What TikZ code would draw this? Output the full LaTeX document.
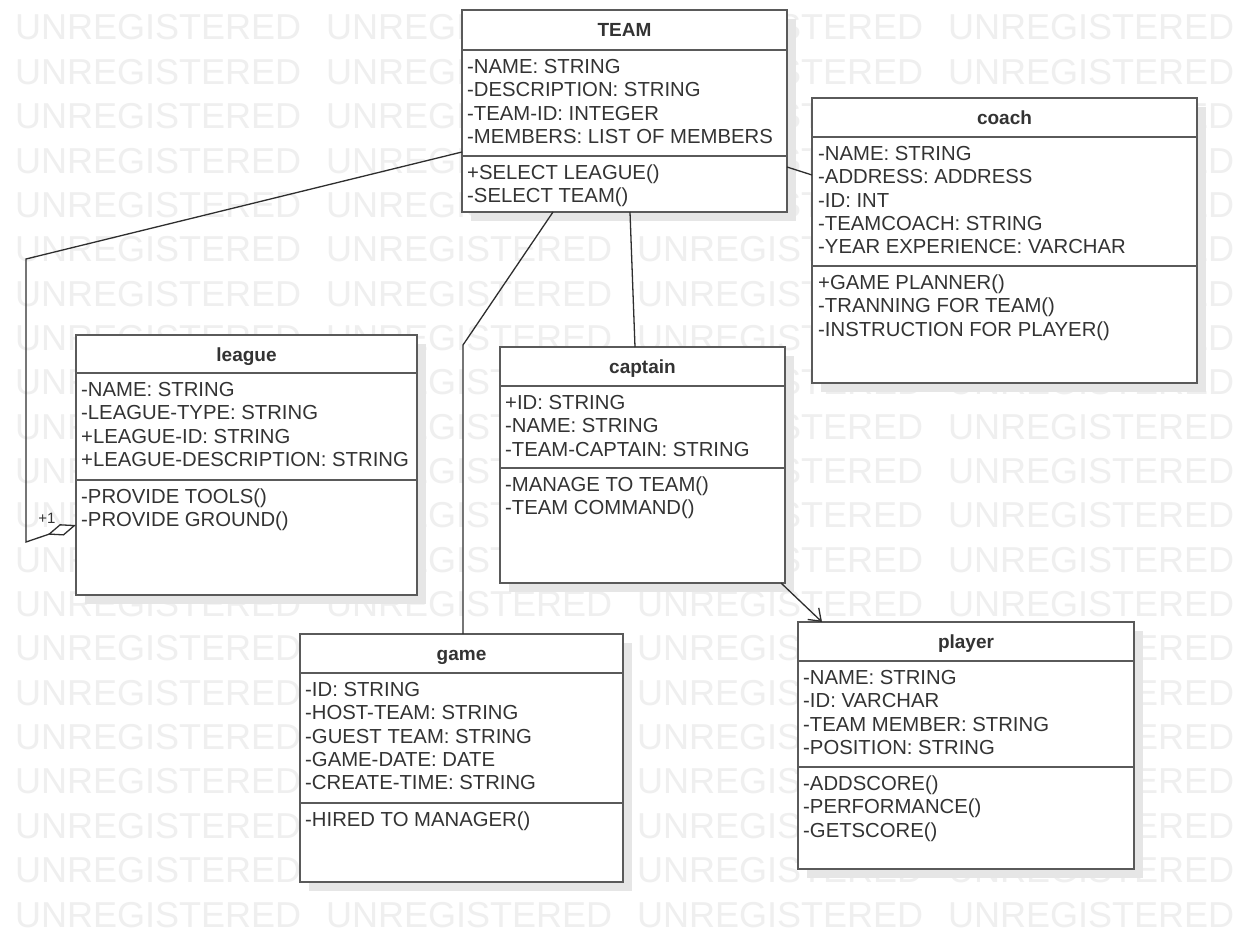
\documentclass[tikz,border=0pt]{standalone}
\usepackage{fontspec}
\setmainfont{Liberation Sans}
\usetikzlibrary{arrows.meta,calc}
\definecolor{wmgray}{HTML}{EFEFEF}
\definecolor{shadowgray}{HTML}{E6E6E6}
\definecolor{boxgray}{HTML}{5A5A5A}
\definecolor{textgray}{HTML}{333333}
\definecolor{linegray}{HTML}{2E2E2E}
\tikzset{
  classbox/.style={draw=boxgray, line width=1.6pt, fill=white, inner sep=0pt, outer sep=0pt},
  divider/.style={draw=boxgray, line width=1.6pt},
  member/.style={inner sep=0pt, text=textgray, font=\fontsize{20.3}{23}\selectfont, anchor=base west},
  classtitle/.style={inner sep=0pt, text=textgray, font=\bfseries\fontsize{19}{22}\selectfont, anchor=base},
  wm/.style={inner sep=0pt, text=wmgray, font=\fontsize{36}{40}\selectfont, anchor=base west},
  conn/.style={draw=linegray, line width=1.3pt},
  multlabel/.style={inner sep=0pt, text=textgray, font=\fontsize{15}{16}\selectfont, anchor=base},
}
\newcommand{\umlbox}[7]{%
  \fill[shadowgray] (#2+9,#3+9) rectangle (#4+9,#5+9);
  \node[classbox, anchor=north west, minimum width={#4-#2}, minimum height={#5-#3}] (#1) at (#2,#3) {};
  \draw[divider] (#2,#6) -- (#4,#6);
  \draw[divider] (#2,#7) -- (#4,#7);
}
\newcommand{\members}[5]{%
  \foreach \t [count=\i] in {#5} {
    \node[member] (#1-#4\i) at (#2, {#3+(\i-1)*23.3}) {\t};
  }
}
\begin{document}
\begin{tikzpicture}[x=1pt, y=-1pt]
\useasboundingbox[fill=white] (0,0) rectangle (1248,934);
% watermark
\foreach \k in {0,...,20} {
  \foreach \j in {0,...,3} {
    \node[wm] (wm-\k-\j) at ({15+311*\j}, {40+44.35*\k}) {UNREGISTERED};
  }
}
% classes
\umlbox{team}{462}{10}{787}{212}{50}{156}
\node[classtitle] (team-title) at (624.5,37) {TEAM};
\members{team}{467}{73.5}{a}{-NAME: STRING,-DESCRIPTION: STRING,-TEAM-ID: INTEGER,-MEMBERS: LIST OF MEMBERS}
\members{team}{467}{179.5}{m}{+SELECT LEAGUE(),-SELECT TEAM()}

\umlbox{coach}{812}{98}{1197}{383}{137}{266}
\node[classtitle] (coach-title) at (1004.5,124) {coach};
\members{coach}{818}{160.5}{a}{-NAME: STRING,-ADDRESS: ADDRESS,-ID: INT,-TEAMCOACH: STRING,-YEAR EXPERIENCE: VARCHAR}
\members{coach}{818}{289.5}{m}{+GAME PLANNER(),-TRANNING FOR TEAM(),-INSTRUCTION FOR PLAYER()}

\umlbox{league}{76}{335}{417}{595}{373}{480}
\node[classtitle] (league-title) at (246.5,361) {league};
\members{league}{81}{396.5}{a}{-NAME: STRING,-LEAGUE-TYPE: STRING,+LEAGUE-ID: STRING,+LEAGUE-DESCRIPTION: STRING}
\members{league}{81}{503.5}{m}{-PROVIDE TOOLS(),-PROVIDE GROUND()}

\umlbox{captain}{500}{347}{785}{583}{386}{468}
\node[classtitle] (captain-title) at (642.5,373.5) {captain};
\members{captain}{505}{409.5}{a}{+ID: STRING,-NAME: STRING,-TEAM-CAPTAIN: STRING}
\members{captain}{505}{491.5}{m}{-MANAGE TO TEAM(),-TEAM COMMAND()}

\umlbox{game}{300}{634}{623}{882}{673}{803}
\node[classtitle] (game-title) at (461.5,660.5) {game};
\members{game}{305}{696.5}{a}{-ID: STRING,-HOST-TEAM: STRING,-GUEST TEAM: STRING,-GAME-DATE: DATE,-CREATE-TIME: STRING}
\members{game}{305}{826.5}{m}{-HIRED TO MANAGER()}

\umlbox{player}{798}{622}{1134}{869}{661}{767}
\node[classtitle] (player-title) at (966,648.5) {player};
\members{player}{803}{684.5}{a}{-NAME: STRING,-ID: VARCHAR,-TEAM MEMBER: STRING,-POSITION: STRING}
\members{player}{803}{790.5}{m}{-ADDSCORE(),-PERFORMANCE(),-GETSCORE()}

% connectors
\coordinate (aggA) at (26,259);
\coordinate (aggB) at (26,542);
\draw[conn, -{Diamond[fill=white, length=30pt, width=12pt]}]
  ($(team.north west)+(0,142)$) -- (aggA) -- (aggB) -- ($(league.north west)+(0,190)$);
\node[multlabel] (agg-mult) at (47,523) {+1};

\draw[conn] ($(team.north east)+(0,157)$) -- ($(coach.north west)+(0,77)$);

\coordinate (gameBend) at (463,345);
\draw[conn] ($(team.south west)+(91,0)$) -- (gameBend) -- ($(game.north west)+(163,0)$);

\draw[conn] ($(team.south west)+(168,0)$) -- ($(captain.north west)+(135,0)$);

\draw[conn, -{Straight Barb[length=11pt, width=16pt]}]
  ($(captain.south east)+(-4,0)$) -- ($(player.north west)+(24,0)$);
\end{tikzpicture}
\end{document}
